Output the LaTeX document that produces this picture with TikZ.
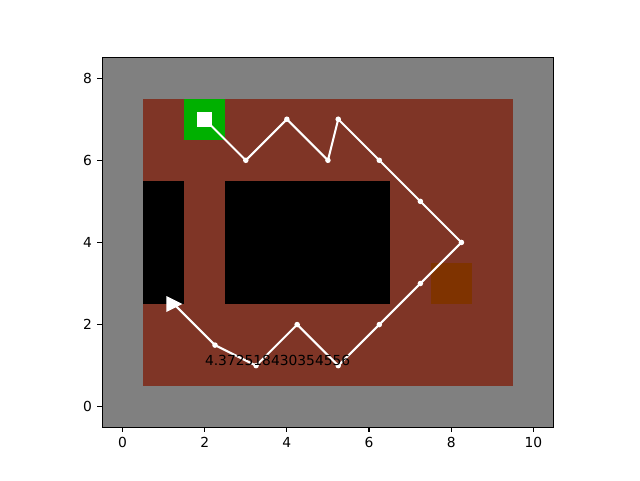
\documentclass[tikz,border=0pt]{standalone}
\usepackage{fontspec}
\setmainfont{DejaVu Sans}
\definecolor{fondo}{RGB}{128,128,128}
\definecolor{suelo}{RGB}{127,53,38}
\definecolor{meta}{RGB}{0,176,0}
\definecolor{trampa}{RGB}{127,51,0}

\begin{document}
\begin{tikzpicture}[
    x=0.4107in,
    y=0.4107in,
    font=\fontsize{10}{12}\selectfont,
    >=stealth,
    ruta/.style={
        white,
        line width=1.5pt,
        line join=round
    },
    punto/.style={
        circle,
        fill=white,
        inner sep=0pt,
        minimum size=4pt
    },
    inicio/.style={
        rectangle,
        fill=white,
        draw=white,
        line width=1pt,
        inner sep=0pt,
        minimum size=10pt
    },
    eje/.style={
        black,
        line width=0.8pt
    }
]
    \useasboundingbox (-2.985,-1.785) rectangle (12.598,9.903);

    % mapa
    \fill[fondo] (-0.5,-0.5) rectangle (10.5,8.5);
    \fill[suelo] (0.5,0.5) rectangle (9.5,7.5);
    \fill[meta] (1.5,6.5) rectangle (2.5,7.5);
    \fill[black] (0.5,2.5) rectangle (1.5,5.5);
    \fill[black] (2.5,2.5) rectangle (6.5,5.5);
    \fill[trampa] (7.5,2.5) rectangle (8.5,3.5);

    % recorrido
    \foreach \x/\y [count=\i from 0] in {2/7,3/6,4/7,5/6,5.25/7,6.25/6,7.25/5,
        8.25/4,7.25/3,6.25/2,5.25/1,4.25/2,3.25/1,2.25/1.5,1.25/2.5}
        \coordinate (p\i) at (\x,\y);
    \draw[ruta] (p0) \foreach \i in {1,...,14} { -- (p\i) };
    \foreach \i in {1,...,13}
        \node[punto] (d\i) at (p\i) {};
    \node[inicio] (salida) at (p0) {};
    \filldraw[white, line width=1pt, line join=miter] (p14) ++(5pt,0)
        -- ++(-10pt,5pt) -- ++(0,-10pt) -- cycle;

    \node[anchor=base west, inner sep=0pt] (costo) at (2,1) {4.372518430354556};

    % ejes
    \draw[eje] (-0.5,-0.5) rectangle (10.5,8.5);
    \foreach \x in {0,2,...,10}
        \draw[eje] (\x,-0.5) -- ++(0,-3.5pt)
            node[below, inner sep=0pt, yshift=-3.5pt] {\x};
    \foreach \y in {0,2,...,8}
        \draw[eje] (-0.5,\y) -- ++(-3.5pt,0)
            node[left, inner sep=0pt, xshift=-3.5pt] {\y};
\end{tikzpicture}
\end{document}
